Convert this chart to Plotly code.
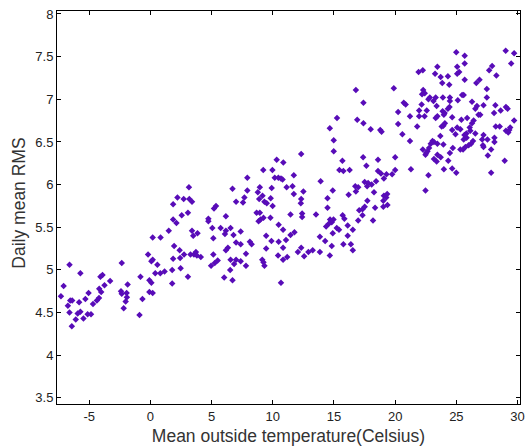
import plotly.graph_objects as go

# Mean outside temperature (Celsius)
temp = [
    -6.61, -5.72, -7.09, -7.31, -6.55, -6.39, -6.74, -5.82, -5.31, -5.05,
    -6.61, -5.94, -5.72, -6.10, -5.47, -5.13, -4.85, -6.42, -4.69, -4.37,
    -4.20, -4.18, -4.02, -3.75, -4.08, -3.91, -3.29, -2.34, -1.86, -2.40,
    -2.34, -1.94, -1.92, -2.02, -2.18, -0.89, -0.81, -0.65, -0.19, 0.08,
    0.19, -0.08, 0.08, -0.08, 0.19, 0.19,
    3.15, 2.21, 2.72, 3.18, 3.40, 1.86, 3.07, 2.56, 1.86, 2.13,
    1.50, 0.83, 3.40, 3.50, 3.85, 1.94, 2.39, 2.75, 2.43, 1.86,
    3.28, 3.56, 3.72, 3.80, 4.12, 0.57, 0.40, 0.81, 1.16, 1.78,
    2.47, 3.07, 1.78, 6.71, 7.00, 5.20, 5.36, 4.74, 4.74, 6.17,
    5.06, 5.74, 6.17, 6.09, 6.55, 6.79, 5.14, 7.00, 6.33, 6.17,
    5.14, 5.50, 5.26, 4.96, 6.55, 6.84, 7.00, 6.52, 6.03, 6.71,
    12.32, 10.32, 10.86, 9.22, 9.97, 11.72, 10.16, 10.46, 10.67, 10.80,
    7.92, 13.91, 11.13, 11.61, 8.94, 9.91, 7.92, 8.78, 12.50, 11.72,
    7.68, 7.57, 9.16, 8.89, 9.32, 9.51, 9.83, 12.32, 12.29, 9.99,
    8.68, 8.94, 11.45, 12.40, 12.40, 13.53, 8.84, 9.00, 9.24, 9.81,
    10.48, 10.84, 11.77, 11.45, 7.38, 9.46, 13.85, 11.08, 9.89, 10.48,
    8.13, 8.27, 7.38, 9.46, 10.84, 12.32, 12.05, 12.91, 13.26, 13.85,
    7.81, 10.43, 10.84, 11.18, 12.56, 7.38, 7.81, 9.14, 9.24, 9.32,
    10.67,
    15.25, 16.90, 17.41, 14.66, 18.00, 18.78, 18.89, 14.98, 14.98, 17.38,
    15.69, 18.60, 20.00, 17.65, 15.44, 15.77, 16.28, 18.60, 18.84, 19.29,
    19.75, 20.00, 19.08, 18.44, 17.51, 17.79, 18.08, 17.71, 16.74, 16.98,
    16.79, 14.90, 16.20, 18.27, 19.08, 19.35, 19.27, 14.47, 19.03, 17.73,
    19.37, 19.03, 14.47, 17.51, 17.33, 17.06, 18.36, 15.71, 15.85, 17.33,
    16.98, 18.19, 14.68, 14.96, 14.82, 14.58, 14.36, 16.12, 15.23, 15.41,
    16.54, 14.90, 16.12, 14.28, 15.77, 16.38, 14.82, 16.54, 14.66, 16.79,
    17.41,
    23.45, 21.91, 22.26, 23.26, 23.72, 24.31, 23.85, 24.42, 19.89, 22.29,
    22.42, 22.20, 22.83, 22.72, 23.31, 23.13, 23.90, 24.47, 24.47, 20.70,
    20.86, 22.16, 23.39, 24.44, 24.31, 20.24, 21.96, 22.58, 23.88, 24.04,
    21.96, 22.40, 21.21, 23.45, 23.31, 23.98, 20.24, 21.80, 24.06, 23.94,
    23.80, 24.66, 20.59, 23.69, 21.21, 23.05, 23.17, 22.91, 22.77, 22.64,
    22.53, 22.48, 23.45, 23.94, 24.71, 22.26, 24.47, 23.45, 23.72, 23.17,
    23.39, 24.34, 24.66, 23.98, 21.29, 22.72, 22.48,
    24.99, 25.68, 29.03, 29.72, 25.68, 29.48, 25.07, 25.23, 25.07, 27.92,
    27.68, 28.27, 25.68, 26.63, 26.89, 27.49, 25.47, 25.60, 25.12, 27.49,
    26.28, 26.68, 26.55, 27.22, 28.19, 28.08, 28.62, 29.05, 29.19, 26.81,
    26.95, 25.88, 25.41, 26.41, 26.28, 24.66, 29.72, 28.22, 28.54, 25.07,
    25.33, 26.09, 26.14, 29.40, 29.32, 29.05, 29.24, 24.93, 25.82, 25.66,
    25.84, 25.60, 26.55, 27.22, 27.11, 27.54, 28.11, 28.11, 26.36, 26.20,
    26.00, 27.17, 27.22, 25.74, 25.55, 25.33, 27.84, 27.57, 28.95, 24.99,
    27.84,
]

# Daily mean RMS
rms = [
    5.06, 4.96, 4.81, 4.69, 4.64, 4.64, 4.58, 4.62, 4.66, 4.73,
    4.50, 4.49, 4.51, 4.42, 4.43, 4.48, 4.48, 4.34, 4.60, 4.64,
    4.67, 4.78, 4.74, 4.82, 4.92, 4.94, 4.87, 5.08, 4.83, 4.75,
    4.72, 4.73, 4.68, 4.63, 4.55, 4.47, 4.92, 4.66, 5.18, 5.10,
    5.38, 4.88, 4.85, 4.74, 4.73, 5.12,
    5.97, 5.85, 5.83, 5.83, 5.80, 5.77, 5.67, 5.64, 5.59, 5.55,
    5.46, 5.38, 5.46, 5.40, 5.43, 5.28, 5.23, 5.18, 5.14, 5.13,
    5.18, 5.18, 5.21, 5.17, 5.15, 5.06, 4.96, 4.96, 4.98, 5.00,
    5.02, 4.92, 4.84, 5.95, 5.80, 5.72, 5.75, 5.60, 5.57, 5.63,
    5.49, 5.49, 5.46, 5.42, 5.49, 5.41, 5.37, 5.32, 5.26, 5.23,
    5.18, 5.11, 5.08, 5.05, 5.12, 5.07, 5.12, 5.00, 4.91, 4.88,
    6.36, 6.29, 6.26, 6.17, 6.17, 6.11, 6.08, 6.08, 6.07, 6.06,
    6.08, 6.04, 5.97, 5.98, 5.97, 5.96, 5.93, 5.91, 5.92, 5.89,
    5.85, 5.79, 5.87, 5.83, 5.80, 5.78, 5.84, 5.83, 5.78, 5.75,
    5.67, 5.67, 5.65, 5.66, 5.62, 5.65, 5.57, 5.59, 5.61, 5.61,
    5.53, 5.47, 5.44, 5.41, 5.45, 5.40, 5.39, 5.35, 5.34, 5.33,
    5.33, 5.30, 5.30, 5.25, 5.26, 5.26, 5.21, 5.21, 5.23, 5.21,
    5.19, 5.17, 5.12, 5.15, 5.16, 5.10, 5.05, 5.12, 5.09, 5.05,
    4.85,
    6.78, 6.76, 6.72, 6.66, 6.65, 6.64, 6.62, 6.52, 6.39, 6.32,
    6.28, 6.29, 6.32, 6.22, 6.17, 6.16, 6.17, 6.16, 6.13, 6.12,
    6.12, 6.17, 6.07, 6.04, 6.03, 6.02, 6.00, 5.98, 5.98, 5.97,
    5.92, 5.93, 5.88, 5.91, 5.87, 5.89, 5.85, 5.84, 5.81, 5.81,
    5.76, 5.74, 5.73, 5.74, 5.71, 5.70, 5.73, 5.64, 5.60, 5.64,
    5.58, 5.58, 5.59, 5.59, 5.56, 5.54, 5.51, 5.52, 5.49, 5.47,
    5.47, 5.43, 5.40, 5.34, 5.30, 5.30, 5.28, 5.23, 5.17, 7.11,
    6.96,
    7.38, 7.32, 7.34, 7.30, 7.26, 7.27, 7.19, 7.17, 7.13, 7.11,
    7.07, 7.06, 7.02, 7.00, 7.02, 6.98, 7.02, 7.02, 6.98, 6.96,
    6.94, 6.94, 6.92, 6.91, 6.89, 6.85, 6.87, 6.87, 6.86, 6.84,
    6.80, 6.80, 6.80, 6.80, 6.78, 6.82, 6.71, 6.68, 6.72, 6.69,
    6.68, 6.64, 6.59, 6.57, 6.51, 6.51, 6.50, 6.48, 6.43, 6.39,
    6.37, 6.35, 6.48, 6.47, 6.43, 6.41, 6.37, 6.35, 6.32, 6.30,
    6.27, 6.28, 6.19, 6.18, 6.18, 6.11, 5.93,
    7.55, 7.51, 7.57, 7.54, 7.42, 7.42, 7.38, 7.32, 7.30, 7.39,
    7.34, 7.28, 7.23, 7.19, 7.23, 7.12, 7.05, 7.05, 6.99, 7.02,
    6.97, 6.92, 6.89, 6.93, 6.93, 6.84, 6.87, 6.91, 6.89, 6.82,
    6.82, 6.78, 6.76, 6.75, 6.72, 6.79, 6.75, 6.68, 6.68, 6.67,
    6.65, 6.67, 6.63, 6.67, 6.64, 6.63, 6.61, 6.59, 6.60, 6.58,
    6.55, 6.53, 6.60, 6.58, 6.53, 6.53, 6.55, 6.50, 6.51, 6.48,
    6.46, 6.46, 6.44, 6.44, 6.41, 6.41, 6.41, 6.34, 6.28, 6.14,
    6.14,
]

x_ticks = [-5, 0, 5, 10, 15, 20, 25, 30]
x_tick_labels = ["-5", "0", "5", "10", "15", "20", "25", "30"]
y_ticks = [3.5, 4, 4.5, 5, 5.5, 6, 6.5, 7, 7.5, 8]
y_tick_labels = ["3.5", "4", "4.5", "5", "5.5", "6", "6.5", "7", "7.5", "8"]

FONT = "Liberation Sans, Arial, sans-serif"

fig = go.Figure()
fig.add_trace(go.Scatter(
    x=temp, y=rms, mode="markers",
    marker=dict(symbol="diamond", size=5, color="#580cb8", line=dict(width=0)),
    showlegend=False, hoverinfo="skip",
))

axis_common = dict(
    showline=True, linecolor="black", linewidth=1, mirror="ticks",
    ticks="inside", ticklen=4, tickcolor="black", tickwidth=1,
    showgrid=False, zeroline=False, ticklabeloverflow="allow",
    tickfont=dict(family=FONT, size=13, color="#222"),
)

fig.update_layout(
    width=529, height=448,
    margin=dict(l=57, r=4, t=11, b=44),
    paper_bgcolor="white", plot_bgcolor="white",
    xaxis=dict(range=[-7.63, 30.2], tickvals=x_ticks, ticktext=x_tick_labels,
               title=dict(text="Mean outside temperature(Celsius)", standoff=7,
                          font=dict(family=FONT, size=17.5, color="#333")),
               **axis_common),
    yaxis=dict(range=[3.428, 8.035], tickvals=y_ticks, ticktext=y_tick_labels, **axis_common),
    annotations=[dict(
        text="Daily mean RMS", xref="paper", yref="paper",
        x=-0.084, y=0.51, xanchor="center", yanchor="middle", textangle=-90,
        showarrow=False,
        font=dict(family=FONT, size=17.5, color="#333"),
    )],
)

fig.write_html("out.html")
